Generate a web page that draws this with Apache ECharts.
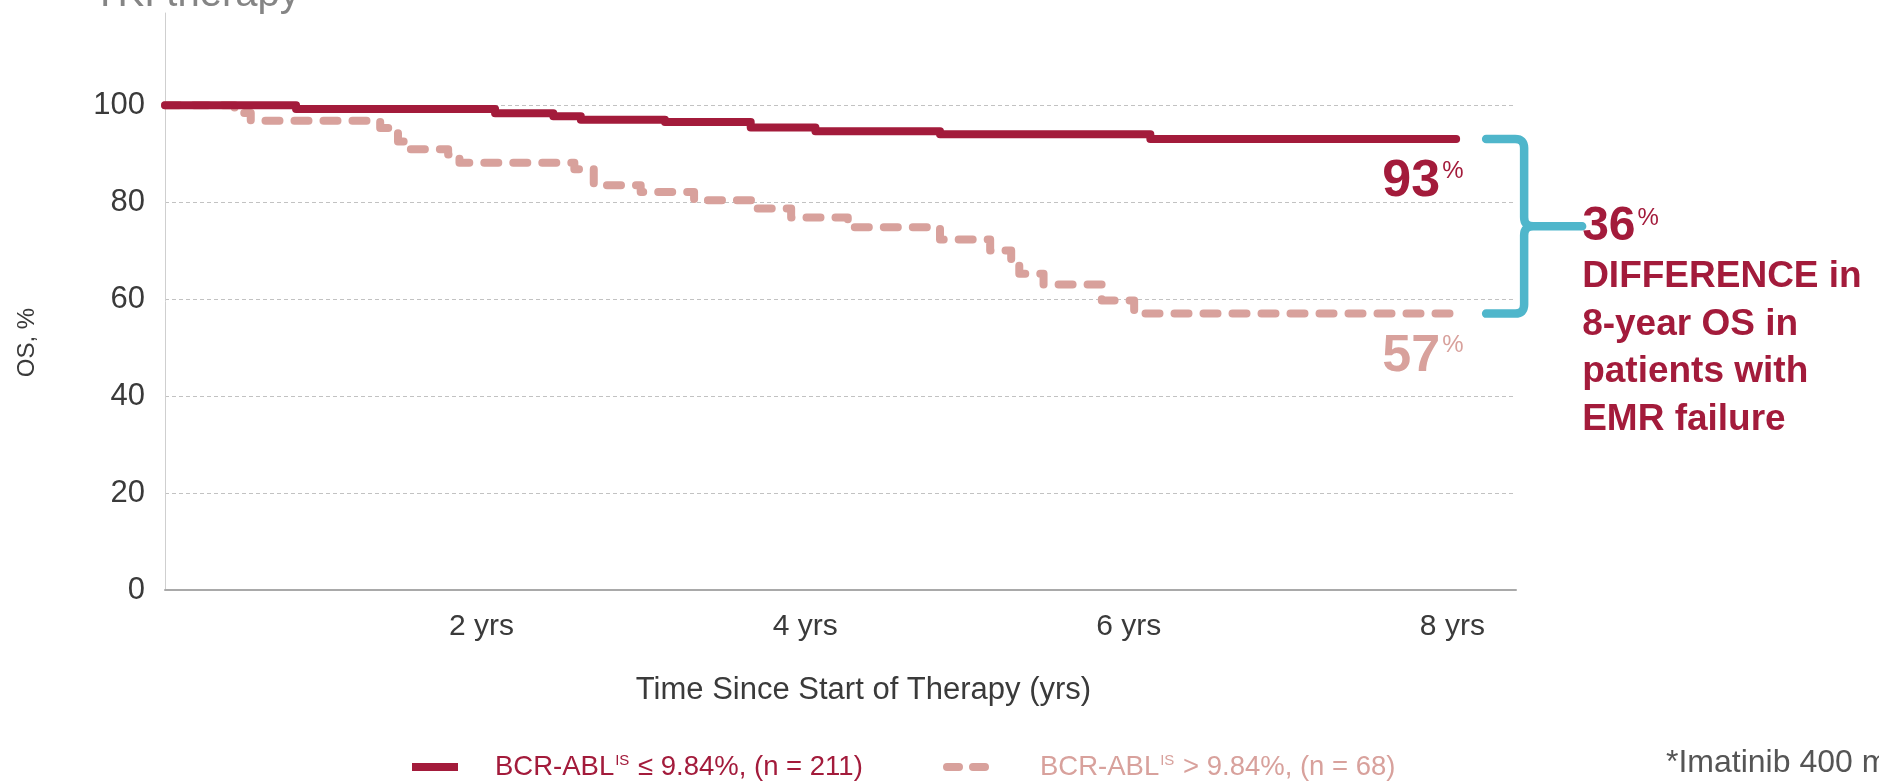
<!DOCTYPE html>
<html>
<head>
<meta charset="utf-8">
<script src="https://cdn.jsdelivr.net/npm/echarts@6/dist/echarts.min.js"></script>
<style>
  html, body { margin: 0; padding: 0; background: #ffffff; }
  #chart { width: 1879px; height: 781px; }
</style>
</head>
<body>
<div id="chart"></div>
<script>
// Kaplan-Meier overall survival (%) by early molecular response group
// Step points: time (years) at which OS drops to the given level
const lowGroupTimes = [0, 0.81, 2.04, 2.40, 2.57, 3.09, 3.62, 4.02, 4.79, 6.09, 7.98];
const lowGroupOS    = [100, 99.2, 98.3, 97.7, 97.0, 96.5, 95.4, 94.6, 94.0, 93, 93];

const highGroupTimes = [0, 0.43, 0.53, 1.33, 1.44, 1.50, 1.75, 1.82, 2.53, 2.65, 2.94, 3.27,
                        3.65, 3.87, 4.22, 4.79, 5.10, 5.23, 5.28, 5.43, 5.79, 5.99, 7.98];
const highGroupOS    = [100, 98.4, 96.8, 95.3, 92.5, 90.9, 89.8, 88.1, 86.8, 83.5, 82.1, 80.4,
                        78.7, 76.8, 74.8, 72.3, 70.0, 67.6, 65.2, 63.0, 59.7, 57, 57];

const xTickYears  = [2, 4, 6, 8];
const xTickLabels = ['2 yrs', '4 yrs', '6 yrs', '8 yrs'];
const yTicks      = [0, 20, 40, 60, 80, 100];

const seriesNames  = ['BCR-ABL ≤ 9.84%, (n = 211)', 'BCR-ABL > 9.84%, (n = 68)'];
const legendParts  = [['BCR-ABL', 'IS', ' ≤ 9.84%, (n = 211)'], ['BCR-ABL', 'IS', ' > 9.84%, (n = 68)']];
const noteLines    = ['DIFFERENCE in', '8-year OS in', 'patients with', 'EMR failure'];

const RED = '#a31b3b';
const PINK = '#d8a19c';
const TEAL = '#4fb6cb';
const INK = '#3a3a3a';
const FONT = '"Liberation Sans", Arial, sans-serif';

const measureCtx = document.createElement('canvas').getContext('2d');
function textWidth(str, font) { measureCtx.font = font; return measureCtx.measureText(str).width; }

const lowData = lowGroupTimes.map((t, i) => [t, lowGroupOS[i]]);
const highData = highGroupTimes.map((t, i) => [t, highGroupOS[i]]);
const endTime = Math.max(lowGroupTimes[lowGroupTimes.length - 1], highGroupTimes[highGroupTimes.length - 1]);
const lowFinal = lowGroupOS[lowGroupOS.length - 1];
const highFinal = highGroupOS[highGroupOS.length - 1];

const SOLID_ICON = 'path://M0,0 h46 v8 h-46 z';
const DASH_ICON = 'path://M4,0 h12 a4,4 0 0 1 0,8 h-12 a4,4 0 0 1 0,-8 z M30,0 h12 a4,4 0 0 1 0,8 h-12 a4,4 0 0 1 0,-8 z';

function legendFor(idx, left, color, icon, gap) {
  const p = legendParts[idx];
  return {
    data: [{ name: seriesNames[idx], icon: icon }],
    left: left, top: 748,
    itemWidth: 46, itemHeight: 8,
    selectedMode: false,
    formatter: () => `{g| }{m|${p[0]}}{s|${p[1]}}{m|${p[2]}}`,
    textStyle: {
      rich: {
        g: { width: gap },
        m: { fontSize: 27.5, color: color, fontFamily: FONT, lineHeight: 30 },
        s: { fontSize: 15, color: color, fontFamily: FONT, padding: [0, 1, 13, 1] }
      }
    }
  };
}

const option = {
  backgroundColor: '#ffffff',
  animation: false,
  grid: { left: 165, right: 363, top: 13, bottom: 191, containLabel: false },
  xAxis: {
    type: 'value', min: 0, max: 8.35, interval: 2,
    axisLine: { show: true, lineStyle: { color: '#a9a9a9', width: 2 } },
    axisTick: { show: false },
    splitLine: { show: false },
    axisLabel: {
      color: INK, fontSize: 30, fontFamily: FONT, margin: 22,
      showMinLabel: false, showMaxLabel: false,
      padding: [0, 14, 0, 0],
      formatter: v => { const i = xTickYears.indexOf(v); return i >= 0 ? xTickLabels[i] : ''; }
    },
    name: 'Time Since Start of Therapy (yrs)',
    nameLocation: 'middle', nameGap: 85,
    nameTextStyle: { color: INK, fontSize: 31, fontFamily: FONT, padding: [0, 0, 0, 46] }
  },
  yAxis: {
    type: 'value', min: 0, max: 119, interval: 20,
    axisLine: { show: true, lineStyle: { color: '#cfcfcf', width: 1 } },
    axisTick: { show: false },
    axisLabel: {
      color: INK, fontSize: 31, fontFamily: FONT, margin: 20,
      showMaxLabel: false,
      formatter: v => (yTicks.includes(v) ? String(v) : '')
    },
    splitLine: {
      show: true, showMinLine: false, showMaxLine: false,
      lineStyle: { color: '#c2c2c2', width: 1, type: [4, 3] }
    },
    name: 'OS, %',
    nameLocation: 'middle', nameGap: 126, nameRotate: 90,
    nameTextStyle: { color: INK, fontSize: 24, fontFamily: FONT, padding: [0, 82, 0, 0] }
  },
  legend: [legendFor(0, 407, RED, SOLID_ICON, 32), legendFor(1, 938, PINK, DASH_ICON, 46)],
  graphic: [
    { type: 'text', x: 93, y: -25, style: { text: 'TKI therapy', fontSize: 40, fontFamily: FONT, fill: '#858585', verticalAlign: 'top' } },
    { type: 'text', x: 1666, y: 763, style: { text: '*Imatinib 400 mg', fontSize: 32, fontFamily: FONT, fill: '#555555', verticalAlign: 'middle' } }
  ],
  series: [
    {
      type: 'line', name: seriesNames[1], data: highData, step: 'end',
      symbol: 'none', showSymbol: false, silent: true, z: 2,
      itemStyle: { color: PINK },
      lineStyle: { color: PINK, width: 8, type: [14, 15], cap: 'round', join: 'round' }
    },
    {
      type: 'line', name: seriesNames[0], data: lowData, step: 'end',
      symbol: 'none', showSymbol: false, silent: true, z: 3,
      itemStyle: { color: RED },
      lineStyle: { color: RED, width: 8, cap: 'round', join: 'round' }
    },
    {
      // end-of-curve labels, bracket and difference note
      type: 'custom', coordinateSystem: 'cartesian2d', clip: false, silent: true, z: 5,
      data: [[endTime, lowFinal, highFinal]],
      encode: { x: 0, y: 1 },
      renderItem: (params, api) => {
        const t = api.value(0), a = api.value(1), b = api.value(2);
        const pa = api.coord([t, a]), pb = api.coord([t, b]);
        const x0 = pa[0], ya = pa[1], yb = pb[1], ym = (ya + yb) / 2;
        const bx0 = x0 + 30, bx1 = x0 + 68, bx2 = x0 + 126, r = 9;
        const path =
          `M${bx0} ${ya} L${bx1 - r} ${ya} Q${bx1} ${ya} ${bx1} ${ya + r} L${bx1} ${ym - r} Q${bx1} ${ym} ${bx1 + r} ${ym} L${bx2} ${ym} ` +
          `M${bx0} ${yb} L${bx1 - r} ${yb} Q${bx1} ${yb} ${bx1} ${yb - r} L${bx1} ${ym + r} Q${bx1} ${ym} ${bx1 + r} ${ym}`;
        const diff = Math.round(a - b);
        const tx = x0 + 126;
        const bigFont = `bold 48px ${FONT}`;
        const w36 = textWidth(String(diff), bigFont);
        return {
          type: 'group',
          children: [
            { type: 'path', shape: { pathData: path },
              style: { stroke: TEAL, fill: null, lineWidth: 8.5, lineCap: 'round', lineJoin: 'round' } },
            { type: 'text', style: { text: String(a), x: x0 - 16, y: ya + 43, align: 'right', verticalAlign: 'middle',
              fill: RED, fontSize: 52, fontWeight: 'bold', fontFamily: FONT } },
            { type: 'text', style: { text: '%', x: x0 - 14, y: ya + 20, align: 'left', verticalAlign: 'top',
              fill: RED, fontSize: 24, fontFamily: FONT } },
            { type: 'text', style: { text: String(b), x: x0 - 16, y: yb + 43, align: 'right', verticalAlign: 'middle',
              fill: PINK, fontSize: 52, fontWeight: 'bold', fontFamily: FONT } },
            { type: 'text', style: { text: '%', x: x0 - 14, y: yb + 20, align: 'left', verticalAlign: 'top',
              fill: PINK, fontSize: 24, fontFamily: FONT } },
            { type: 'text', style: { text: String(diff), x: tx, y: ym, align: 'left', verticalAlign: 'middle',
              fill: RED, font: bigFont } },
            { type: 'text', style: { text: '%', x: tx + w36 + 2, y: ym - 20, align: 'left', verticalAlign: 'top',
              fill: RED, fontSize: 24, fontFamily: FONT } },
            { type: 'text', style: { text: noteLines.join('\n'), x: tx, y: ym + 27, align: 'left', verticalAlign: 'top',
              fill: RED, fontSize: 37, fontWeight: 'bold', fontFamily: FONT, lineHeight: 47.5 } }
          ]
        };
      }
    }
  ]
};

const chart = echarts.init(document.getElementById('chart'), null, { renderer: 'canvas' });
chart.setOption(option);
</script>
</body>
</html>
